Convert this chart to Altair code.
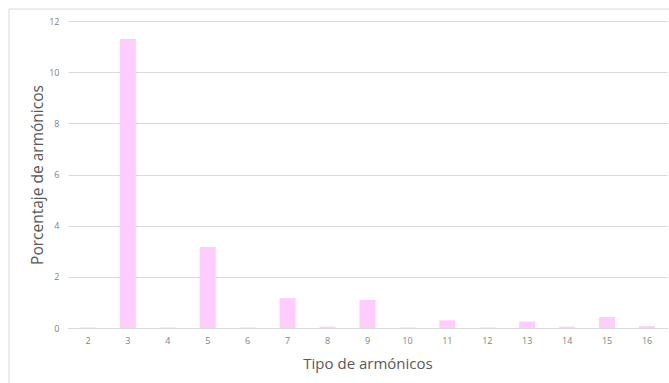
import altair as alt
import pandas as pd

harmonics = ["2", "3", "4", "5", "6", "7", "8", "9", "10", "11", "12", "13", "14", "15", "16"]
percent = [0.02, 11.3, 0.02, 3.17, 0.02, 1.17, 0.05, 1.1, 0.02, 0.3, 0.02, 0.25, 0.05, 0.43, 0.07]

df = pd.DataFrame({"tipo": harmonics, "pct": percent})

FONT = "Open Sans"

frame = alt.Chart(pd.DataFrame({"a": [0]})).mark_rect(
    fillOpacity=0, stroke="#d9d9d9", strokeWidth=1, clip=False
).encode(
    x=alt.value(-59), x2=alt.value(620), y=alt.value(-12), y2=alt.value(370)
)

bars = alt.Chart(df).mark_bar(color="#FFCCFF").encode(
    x=alt.X("tipo:N", sort=harmonics,
            scale=alt.Scale(paddingInner=0.6, paddingOuter=0.3),
            axis=alt.Axis(title="Tipo de armónicos", labelAngle=0, ticks=False,
                          domain=True, domainColor="#d9d9d9",
                          labelColor="#7f7f7f", labelFontSize=9, labelFont=FONT,
                          labelPadding=8, titleFont=FONT, titleFontSize=15,
                          titleFontWeight="normal", titleColor="#595959",
                          titlePadding=11)),
    y=alt.Y("pct:Q", scale=alt.Scale(domain=[0, 12]),
            axis=alt.Axis(title="Porcentaje de armónicos", values=[0, 2, 4, 6, 8, 10, 12],
                          ticks=False, domain=False, gridColor="#d9d9d9",
                          labelColor="#7f7f7f", labelFontSize=9, labelFont=FONT,
                          labelPadding=9, titleFont=FONT, titleFontSize=15.5,
                          titleFontWeight="normal", titleColor="#595959",
                          titlePadding=3)),
)

chart = alt.layer(bars, frame).properties(
    width=599, height=307,
    padding={"left": 68, "top": 21, "right": 2, "bottom": 55},
    autosize=alt.AutoSizeParams(type="none"),
).configure_view(stroke=None).configure_axisX(grid=False)

chart.save("out.html", embed_options={"renderer": "svg", "actions": False})
